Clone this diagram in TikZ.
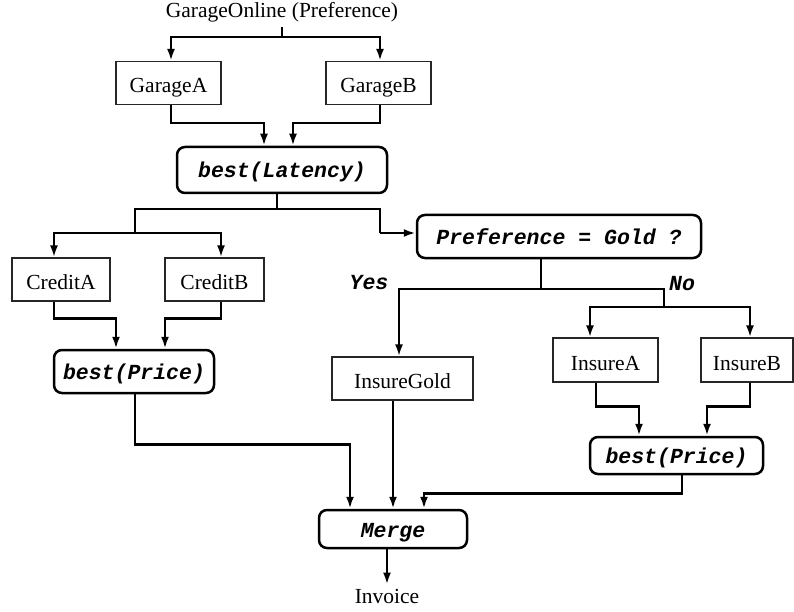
\documentclass[tikz,border=0pt]{standalone}
\usepackage{fontspec}
\setmainfont{Liberation Serif}
\setmonofont{Liberation Mono}
\usetikzlibrary{arrows.meta}
\begin{document}
\begin{tikzpicture}[x=1pt,y=-1pt,
  font=\fontsize{21.5}{24}\selectfont,
  svc/.style={draw=black!85, line width=1.2pt, minimum height=43pt, inner sep=0pt, text height=20pt, text depth=0pt},
  op/.style={draw=black, line width=2.5pt, rounded corners=8pt, inner sep=0pt, font=\fontsize{21.5}{24}\selectfont\ttfamily\bfseries\itshape, text height=17pt, text depth=1pt},
  lbl/.style={inner sep=0pt, font=\fontsize{21.5}{24}\selectfont\ttfamily\bfseries\itshape},
  txt/.style={inner sep=4pt},
  line/.style={line width=2.5pt, line join=miter},
  conn/.style={line width=2.5pt, line join=miter, -{Latex[length=12pt,width=8pt]}}
]
\useasboundingbox (0,0) rectangle (794,612);

% nodes
\node[txt, anchor=base] (go) at (282,18) {GarageOnline (Preference)};
\node[svc, minimum width=105pt] (gA) at (168.5,83) {GarageA};
\node[svc, minimum width=105pt] (gB) at (378.5,83) {GarageB};
\node[op, minimum width=210pt, minimum height=46pt] (bl) at (282,170) {best(Latency)};
\node[svc, minimum width=98pt] (cA) at (61,279.5) {CreditA};
\node[svc, minimum width=99pt] (cB) at (214.5,279.5) {CreditB};
\node[op, minimum width=160pt, minimum height=43pt] (bp1) at (134,371.5) {best(Price)};
\node[op, minimum width=284pt, minimum height=43pt] (pref) at (559,236.5) {Preference = Gold ?};
\node[lbl] (yes) at (369,283) {Yes};
\node[lbl] (no) at (682,284) {No};
\node[svc, minimum width=141pt] (ig) at (402.5,378.5) {InsureGold};
\node[svc, minimum width=105pt, minimum height=44pt] (iA) at (605.5,360) {InsureA};
\node[svc, minimum width=92pt, minimum height=44pt] (iB) at (747,360) {InsureB};
\node[op, minimum width=173pt, minimum height=37pt] (bp2) at (676.5,455.5) {best(Price)};
\node[op, minimum width=148pt, minimum height=38pt] (mg) at (393,529) {Merge};
\node[txt, anchor=base] (inv) at (387,603) {Invoice};

% junction points
\coordinate (s1) at (282,37);
\coordinate (j1) at (277,209);
\coordinate (jL) at (135,233);
\coordinate (jR) at (380,233);
\coordinate (jP) at (541,289);
\coordinate (jN) at (664,307);

% GarageOnline -> garages
\draw[line] (go.south) -- (s1);
\draw[conn] (s1) -| ([xshift=2.5pt]gA.north);
\draw[conn] (s1) -| ([xshift=1.5pt]gB.north);
% garages -> best(Latency)
\draw[conn] ([xshift=2.5pt]gA.south) -- ++(0,18) -| ([xshift=-18pt]bl.north);
\draw[conn] ([xshift=1.5pt]gB.south) -- ++(0,18) -| ([xshift=11pt]bl.north);
% best(Latency) -> branches
\draw[line] ([xshift=-5pt]bl.south) -- (j1);
\draw[line] (j1) -| (jL);
\draw[line] (j1) -| (jR);
\draw[conn] (jR) -- (jR -| pref.west);
\draw[conn] (jL) -| ([xshift=-7pt]cA.north);
\draw[conn] (jL) -| ([xshift=6.5pt]cB.north);
% credits -> best(Price)
\draw[conn] ([xshift=-7pt]cA.south) -- ++(0,17) -| ([xshift=-18pt]bp1.north);
\draw[conn] ([xshift=6.5pt]cB.south) -- ++(0,17) -| ([xshift=31pt]bp1.north);
% preference decision
\draw[line] ([xshift=-18pt]pref.south) -- (jP);
\draw[conn] (jP) -| ([xshift=-3.5pt]ig.north);
\draw[line] (jP) -| (jN);
\draw[conn] (jN) -| ([xshift=-15.5pt]iA.north);
\draw[conn] (jN) -| ([xshift=3pt]iB.north);
% insures -> best(Price)
\draw[conn] ([xshift=-9.5pt]iA.south) -- ++(0,24) -| ([xshift=-37.5pt]bp2.north);
\draw[conn] ([xshift=3pt]iB.south) -- ++(0,24) -| ([xshift=30.5pt]bp2.north);
% -> Merge
\draw[conn] ([xshift=1pt]bp1.south) -- ++(0,50) -| ([xshift=-43pt]mg.north);
\draw[conn] ([xshift=-9.5pt]ig.south) -- (mg.north);
\draw[conn] ([xshift=5.5pt]bp2.south) -- ++(0,18) -| ([xshift=31pt]mg.north);
\draw[conn] ([xshift=-6pt]mg.south) -- (inv.north);
\end{tikzpicture}
\end{document}
